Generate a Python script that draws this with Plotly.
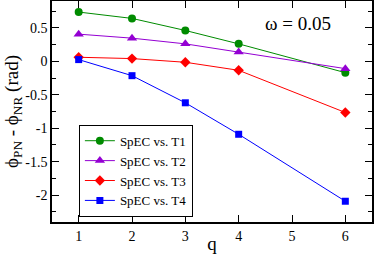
import plotly.graph_objects as go

q = [1, 2, 3, 4, 6]
t1 = [0.735, 0.64, 0.46, 0.26, -0.17]
t2 = [0.405, 0.345, 0.26, 0.14, -0.11]
t3 = [0.06, 0.04, -0.015, -0.135, -0.765]
t4 = [0.025, -0.215, -0.62, -1.09, -2.09]
names = ["SpEC vs. T1", "SpEC vs. T2", "SpEC vs. T3", "SpEC vs. T4"]
colors = ["#008b00", "#9400d3", "#ff0000", "#0000ff"]
symbols = ["circle", "triangle-up", "diamond", "square"]
sizes = [8, 9, 8, 7]
xticks = [1, 2, 3, 4, 5, 6]
yticks = [0.5, 0, -0.5, -1, -1.5, -2]
ytext = ["0.5", "0", "-0.5", "-1", "-1.5", "-2"]

font = "Liberation Serif, Times New Roman, serif"
fig = go.Figure()
for ys, n, c, s, sz in zip([t1, t2, t3, t4], names, colors, symbols, sizes):
    fig.add_trace(go.Scatter(x=q, y=ys, name=n, mode="lines+markers",
                             line=dict(color=c, width=1),
                             marker=dict(color=c, symbol=s, size=sz)))

axis_common = dict(showline=True, linecolor="black", linewidth=1.5, mirror="ticks",
                   ticks="inside", tickcolor="black", ticklen=7, tickwidth=1,
                   showgrid=False, zeroline=False, automargin=False,
                   tickfont=dict(family=font, size=14, color="black"))
fig.update_xaxes(range=[0.5, 6.5], tickvals=xticks,
                 title=dict(text="q", font=dict(family=font, size=19, color="black"), standoff=0),
                 **axis_common)
fig.update_yaxes(range=[-2.4, 0.9], tickvals=yticks, ticktext=ytext,
                 minor=dict(dtick=0.25, ticks="inside", ticklen=4, tickcolor="black", tickwidth=1),
                 title=dict(text="ϕ<sub>PN</sub> - ϕ<sub>NR</sub> (rad)",
                            font=dict(family=font, size=19, color="black"), standoff=2),
                 **axis_common)
fig.add_annotation(x=0.768, y=0.896, xref="paper", yref="paper", text="ω = 0.05",
                   xanchor="center", yanchor="middle",
                   showarrow=False, font=dict(family=font, size=19, color="black"))
fig.update_layout(width=374, height=254, margin=dict(l=52, r=2, t=1, b=32),
                  plot_bgcolor="white", paper_bgcolor="white",
                  font=dict(family=font, color="black"),
                  legend=dict(x=0.084, y=0.44, xanchor="left", yanchor="top",
                              bordercolor="black", borderwidth=1, bgcolor="white",
                              font=dict(family=font, size=13, color="black"),
                              tracegroupgap=0, itemwidth=30))
fig.write_html("out.html", config={"displayModeBar": False},
               post_script="document.body.style.margin='0';document.body.style.padding='0';")
